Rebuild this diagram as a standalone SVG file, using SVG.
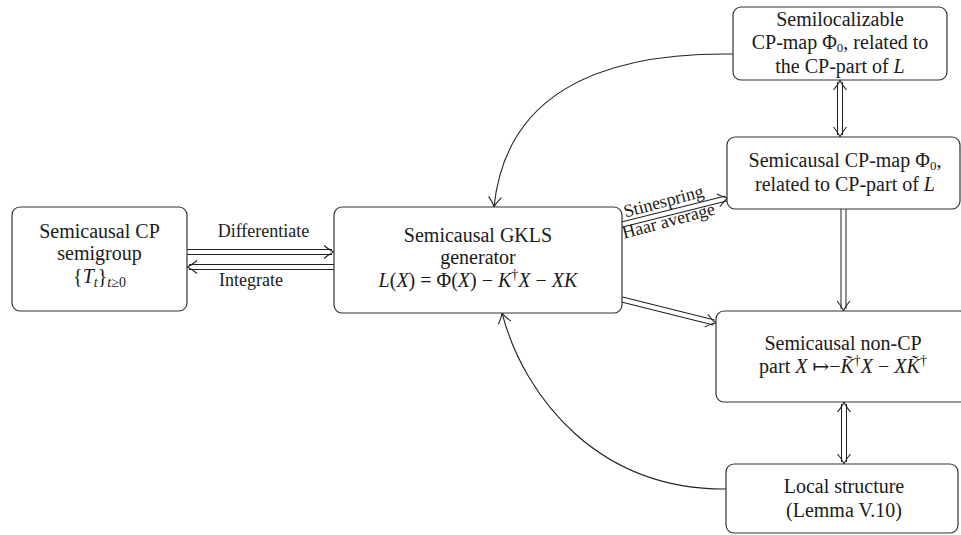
<svg xmlns="http://www.w3.org/2000/svg" width="961" height="535" viewBox="0 0 961 535">
<style>
.box{fill:#fff;stroke:#333;stroke-width:1.2}
.t{font-family:"Liberation Serif","DejaVu Serif",serif;font-size:20px;fill:#1a1a1a;text-anchor:middle}
.lb{font-family:"Liberation Serif","DejaVu Serif",serif;font-size:18px;fill:#1a1a1a;text-anchor:middle}
.i{font-style:italic}
.out{fill:none;stroke:#222;stroke-width:6}
.in{fill:none;stroke:#fff;stroke-width:4}
.tip{fill:none;stroke:none}
.cur{fill:none;stroke:#222;stroke-width:1.1}
</style>
<defs>
<marker id="ah" markerUnits="userSpaceOnUse" viewBox="-12 -8 14 16" refX="0" refY="0" markerWidth="14" markerHeight="16" orient="auto-start-reverse">
<path d="M-10,-6.5 Q-4,-1.5 0,0 Q-4,1.5 -10,6.5" fill="none" stroke="#222" stroke-width="1.1"/>
</marker>
</defs>
<rect width="961" height="535" fill="#fff"/>
<g id="connectors">
<path class="out" d="M187,252 L332,252"/><path class="in" d="M187,252 L332,252"/><path class="tip" d="M187,252 L334,252" marker-end="url(#ah)"/>
<path class="out" d="M334,267 L189,267"/><path class="in" d="M334,267 L189,267"/><path class="tip" d="M334,267 L187,267" marker-end="url(#ah)"/>
<path class="out" d="M622,224.5 L726,198.5"/><path class="in" d="M622,224.5 L726,198.5"/><path class="tip" d="M622,224.5 L728,198" marker-end="url(#ah)"/>
<path class="out" d="M622,299.5 L714,322.5"/><path class="in" d="M622,299.5 L714,322.5"/><path class="tip" d="M622,299.5 L716,323" marker-end="url(#ah)"/>
<path class="out" d="M840,82 L840,135"/><path class="in" d="M840,82 L840,135"/><path class="tip" d="M840,80 L840,137" marker-start="url(#ah)" marker-end="url(#ah)"/>
<path class="out" d="M843.5,209 L843.5,309"/><path class="in" d="M843.5,209 L843.5,309"/><path class="tip" d="M843.5,209 L843.5,311" marker-end="url(#ah)"/>
<path class="out" d="M844,404 L844,462"/><path class="in" d="M844,404 L844,462"/><path class="tip" d="M844,402 L844,464" marker-start="url(#ah)" marker-end="url(#ah)"/>
<path class="cur" d="M733,54 C590,52 505,100 494,207" marker-end="url(#ah)"/>
<path class="cur" d="M726,489 C600,490 525,400 502,313" marker-end="url(#ah)"/>
<text class="lb" x="263.5" y="237">Differentiate</text>
<text class="lb" x="251" y="286">Integrate</text>
<text class="lb" x="665" y="207" transform="rotate(-15 665 207)">Stinespring</text>
<text class="lb" x="670" y="226.5" transform="rotate(-15 670 226.5)">Haar average</text>
</g>
<g id="semigroup">
<rect class="box" x="12" y="207" width="175" height="104" rx="8"/>
<text class="t" x="99.5" y="238">Semicausal CP</text>
<text class="t" x="99.5" y="260">semigroup</text>
<text class="t" x="99.5" y="283">{<tspan class="i">T</tspan><tspan class="i" font-size="14" dy="4">t</tspan><tspan dy="-4">}</tspan><tspan font-size="14" dy="4"><tspan class="i">t</tspan>≥0</tspan></text>
</g>
<g id="gkls">
<rect class="box" x="334" y="207" width="288" height="106" rx="8"/>
<text class="t" x="478" y="242">Semicausal GKLS</text>
<text class="t" x="478" y="264">generator</text>
<text class="t" x="478" y="287"><tspan class="i">L</tspan>(<tspan class="i">X</tspan>) = Φ(<tspan class="i">X</tspan>) − <tspan class="i">K</tspan><tspan font-size="14" dy="-8">†</tspan><tspan class="i" dy="8">X</tspan> − <tspan class="i">XK</tspan></text>
</g>
<g id="semilocalizable">
<rect class="box" x="733" y="7" width="214" height="73" rx="8"/>
<text class="t" x="840" y="26">Semilocalizable</text>
<text class="t" x="840" y="49">CP-map Φ<tspan font-size="13" dy="3">0</tspan><tspan dy="-3">, related to</tspan></text>
<text class="t" x="840" y="73">the CP-part of <tspan class="i">L</tspan></text>
</g>
<g id="semicausal-cp-map">
<rect class="box" x="727" y="137" width="233" height="72" rx="8"/>
<text class="t" x="845" y="167">Semicausal CP-map Φ<tspan font-size="13" dy="3">0</tspan><tspan dy="-3">,</tspan></text>
<text class="t" x="845" y="191">related to CP-part of <tspan class="i">L</tspan></text>
</g>
<g id="non-cp">
<rect class="box" x="716" y="311" width="252" height="91" rx="8"/>
<text class="t" x="843" y="350">Semicausal non-CP</text>
<text class="t" x="843" y="373">part <tspan class="i">X</tspan> ↦−<tspan class="i">K̃</tspan><tspan font-size="14" dy="-8">†</tspan><tspan class="i" dy="8">X</tspan> − <tspan class="i">XK̃</tspan><tspan font-size="14" dy="-8">†</tspan></text>
</g>
<g id="local-structure">
<rect class="box" x="726" y="464" width="232" height="69" rx="8"/>
<text class="t" x="844" y="493">Local structure</text>
<text class="t" x="844" y="517">(Lemma V.10)</text>
</g>
</svg>
